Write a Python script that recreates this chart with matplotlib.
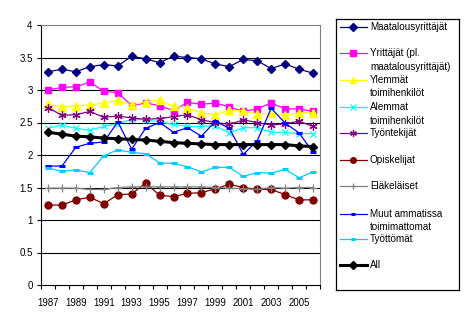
import numpy as np
import matplotlib
matplotlib.use("Agg")
import matplotlib.pyplot as plt

plt.rcParams['font.family'] = ['Liberation Sans', 'DejaVu Sans']

years = list(range(1987, 2007))

maatalous = [3.28, 3.32, 3.28, 3.36, 3.39, 3.37, 3.52, 3.48, 3.42, 3.52,
             3.50, 3.48, 3.40, 3.36, 3.47, 3.45, 3.33, 3.40, 3.32, 3.26]
yrittajat = [3.00, 3.04, 3.05, 3.12, 2.98, 2.96, 2.76, 2.80, 2.76, 2.68,
             2.81, 2.78, 2.80, 2.74, 2.67, 2.71, 2.80, 2.71, 2.71, 2.67]
ylemmat = [2.78, 2.74, 2.76, 2.77, 2.80, 2.84, 2.77, 2.82, 2.84, 2.75,
           2.72, 2.65, 2.62, 2.69, 2.68, 2.63, 2.64, 2.61, 2.65, 2.65]
alemmat = [2.41, 2.46, 2.41, 2.38, 2.44, 2.48, 2.55, 2.54, 2.51, 2.47,
           2.44, 2.44, 2.45, 2.34, 2.42, 2.42, 2.35, 2.35, 2.33, 2.33]
tyontekijat = [2.73, 2.61, 2.62, 2.67, 2.58, 2.60, 2.57, 2.55, 2.56, 2.59,
               2.62, 2.54, 2.50, 2.47, 2.54, 2.50, 2.46, 2.48, 2.52, 2.44]
opiskelijat = [1.23, 1.23, 1.31, 1.35, 1.25, 1.39, 1.40, 1.57, 1.38, 1.36,
               1.41, 1.42, 1.48, 1.55, 1.50, 1.47, 1.47, 1.39, 1.31, 1.31]
elakelaiset = [1.49, 1.49, 1.49, 1.47, 1.47, 1.50, 1.51, 1.51, 1.51, 1.51,
               1.51, 1.51, 1.50, 1.49, 1.48, 1.47, 1.50, 1.49, 1.50, 1.50]
muut = [1.83, 1.83, 2.12, 2.18, 2.20, 2.51, 2.09, 2.41, 2.50, 2.35,
        2.42, 2.29, 2.52, 2.41, 2.01, 2.22, 2.72, 2.49, 2.34, 2.04]
tyottomat = [1.80, 1.75, 1.77, 1.73, 1.99, 2.08, 2.04, 2.02, 1.88, 1.87,
             1.82, 1.74, 1.81, 1.81, 1.67, 1.73, 1.72, 1.78, 1.65, 1.74]
kaikki = [2.35, 2.32, 2.29, 2.28, 2.26, 2.25, 2.24, 2.23, 2.21, 2.19,
          2.18, 2.17, 2.16, 2.16, 2.16, 2.16, 2.16, 2.16, 2.14, 2.13]

series = [
    (["Maatalousyrittäjät"], maatalous,
     dict(color="#000080", marker="D", ms=4.5, lw=0.9)),
    (["Yrittäjät (pl.", "maatalousyrittäjät)"], yrittajat,
     dict(color="#FF00FF", marker="s", ms=5, lw=0.9)),
    (["Ylemmät", "toimihenkilöt"], ylemmat,
     dict(color="#FFFF00", marker="^", ms=6, lw=0.9)),
    (["Alemmat", "toimihenkilöt"], alemmat,
     dict(color="#00FFFF", marker="x", ms=5, mew=0.9, lw=0.9)),
    (["Työntekijät"], tyontekijat,
     dict(color="#800080", marker=(6, 2, 0), ms=6, mew=0.9, lw=0.9)),
    (["Opiskelijat"], opiskelijat,
     dict(color="#800000", marker="o", ms=5, lw=0.9)),
    (["Eläkeläiset"], elakelaiset,
     dict(color="#808080", marker="+", ms=6, mew=0.9, lw=0.9)),
    (["Muut ammatissa", "toimimattomat"], muut,
     dict(color="#0000FF", marker="_", ms=4, mew=2.2, lw=0.9)),
    (["Työttömät"], tyottomat,
     dict(color="#00CCFF", marker="_", ms=4, mew=2.2, lw=0.9)),
    (["All"], kaikki,
     dict(color="#000000", marker="D", ms=4.5, lw=2.2)),
]

W, H = 477, 327
fig = plt.figure(figsize=(W / 100, H / 100), dpi=100)
ax = fig.add_axes([41 / W, 1 - 285 / H, 279 / W, 260 / H])

x = np.arange(len(years))
for label, vals, style in series:
    ax.plot(x, vals, **style)

ax.set_xlim(-0.5, len(years) - 0.5)
ax.set_ylim(0, 4)
ax.set_yticks(np.arange(0, 4.01, 0.5))
ax.set_yticklabels(["0", "0.5", "1", "1.5", "2", "2.5", "3", "3.5", "4"])
for yv in np.arange(0.5, 3.51, 0.5):
    ax.axhline(yv, color="black", lw=0.8, zorder=0)

ax.set_xticks(np.arange(-0.5, len(years), 1.0))
ax.set_xticklabels([])
ax.set_xticks(x[::2], minor=True)
ax.set_xticklabels([str(y) for y in years[::2]], minor=True)
ax.tick_params(axis="x", which="major", direction="out", length=3, width=0.8)
ax.tick_params(axis="x", which="minor", length=0, pad=9, labelsize=6.9)
ax.tick_params(axis="y", direction="out", length=3, width=0.8, labelsize=7, pad=3)

ax.spines["top"].set_color("#808080")
ax.spines["right"].set_color("#808080")
for s in ax.spines.values():
    s.set_linewidth(0.8)

# legend box drawn by hand, Excel style (handle on first text line)
lax = fig.add_axes([336 / W, 1 - 290 / H, 123 / W, 271 / H])
lax.set_xlim(0, 123)
lax.set_ylim(271, 0)
lax.set_xticks([])
lax.set_yticks([])
for s in lax.spines.values():
    s.set_linewidth(0.9)
    s.set_color("black")

row_y = [8, 34, 61, 88, 114, 141, 167, 195, 220, 246]
for (label, vals, style), yy in zip(series, row_y):
    lax.plot([4, 31], [yy, yy], color=style["color"], lw=style["lw"])
    mstyle = {k: v for k, v in style.items() if k != "lw"}
    mstyle["ms"] = mstyle["ms"] * 0.8
    lax.plot([17.5], [yy], linestyle="none", **mstyle)
    for j, line in enumerate(label):
        lax.text(34, yy + j * 13.5, line, fontsize=7.1, va="center", ha="left")

fig.savefig("out.png", dpi=100)
